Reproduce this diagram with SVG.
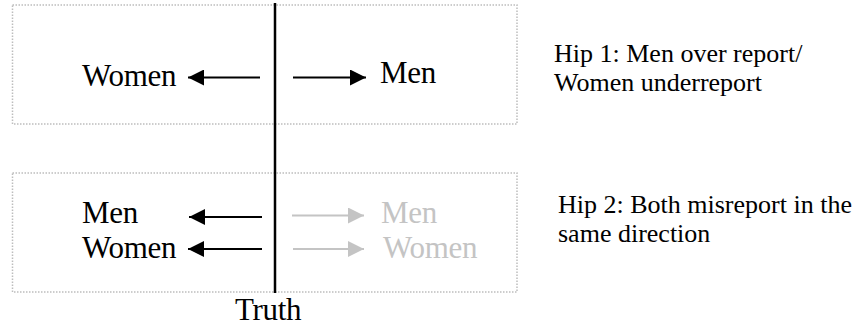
<svg xmlns="http://www.w3.org/2000/svg" width="859" height="331" viewBox="0 0 859 331">
  <style>
    .box { fill: none; stroke: #bdbdbd; stroke-width: 1.5; stroke-dasharray: 1.5 1.5; }
    .lbl { font-family: "Liberation Serif", "Times New Roman", serif; font-size: 31px; letter-spacing: -0.3px; fill: #000; }
    .grey { fill: #c4c4c4; }
    .note { font-family: "Liberation Serif", "Times New Roman", serif; font-size: 26px; fill: #000; }
    .arr { stroke: #000; stroke-width: 2; fill: none; marker-end: url(#hb); }
    .arrg { stroke: #c4c4c4; stroke-width: 2; fill: none; marker-end: url(#hg); }
  </style>
  <defs>
    <marker id="hb" markerUnits="userSpaceOnUse" markerWidth="17" markerHeight="16" refX="16" refY="8" orient="auto">
      <path d="M0,0 L16,8 L0,16 Z" fill="#000"/>
    </marker>
    <marker id="hg" markerUnits="userSpaceOnUse" markerWidth="17" markerHeight="16" refX="16" refY="8" orient="auto">
      <path d="M0,0 L16,8 L0,16 Z" fill="#c4c4c4"/>
    </marker>
  </defs>

  <g id="hyp1-box">
    <rect class="box" x="12.5" y="5" width="504.5" height="119"/>
  </g>
  <g id="hyp2-box">
    <rect class="box" x="12.5" y="173" width="504.5" height="119"/>
  </g>

  <g id="truth">
    <line x1="275" y1="3" x2="275" y2="293" stroke="#000" stroke-width="2.5"/>
    <text class="lbl" x="235" y="320">Truth</text>
  </g>

  <g id="connectors">
    <line class="arr" x1="260" y1="77.5" x2="188" y2="77.5"/>
    <line class="arr" x1="293" y1="77.5" x2="366" y2="77.5"/>
    <line class="arr" x1="262" y1="217" x2="189" y2="217"/>
    <line class="arr" x1="262" y1="249" x2="188" y2="249"/>
    <line class="arrg" x1="292" y1="215.5" x2="364" y2="215.5"/>
    <line class="arrg" x1="293" y1="249" x2="364" y2="249"/>
  </g>

  <g id="hyp1-women"><text class="lbl" x="82" y="86">Women</text></g>
  <g id="hyp1-men"><text class="lbl" x="380" y="83">Men</text></g>

  <g id="hyp2-men-left"><text class="lbl" x="82" y="223">Men</text></g>
  <g id="hyp2-women-left"><text class="lbl" x="82" y="258">Women</text></g>
  <g id="hyp2-men-right"><text class="lbl grey" x="381" y="223">Men</text></g>
  <g id="hyp2-women-right"><text class="lbl grey" x="383" y="258">Women</text></g>

  <g id="hyp1-note">
    <text class="note" x="554" y="62">Hip 1: Men over report/</text>
    <text class="note" x="554" y="91">Women underreport</text>
  </g>
  <g id="hyp2-note">
    <text class="note" x="558" y="213">Hip 2: Both misreport in the</text>
    <text class="note" x="558" y="242">same direction</text>
  </g>
</svg>
